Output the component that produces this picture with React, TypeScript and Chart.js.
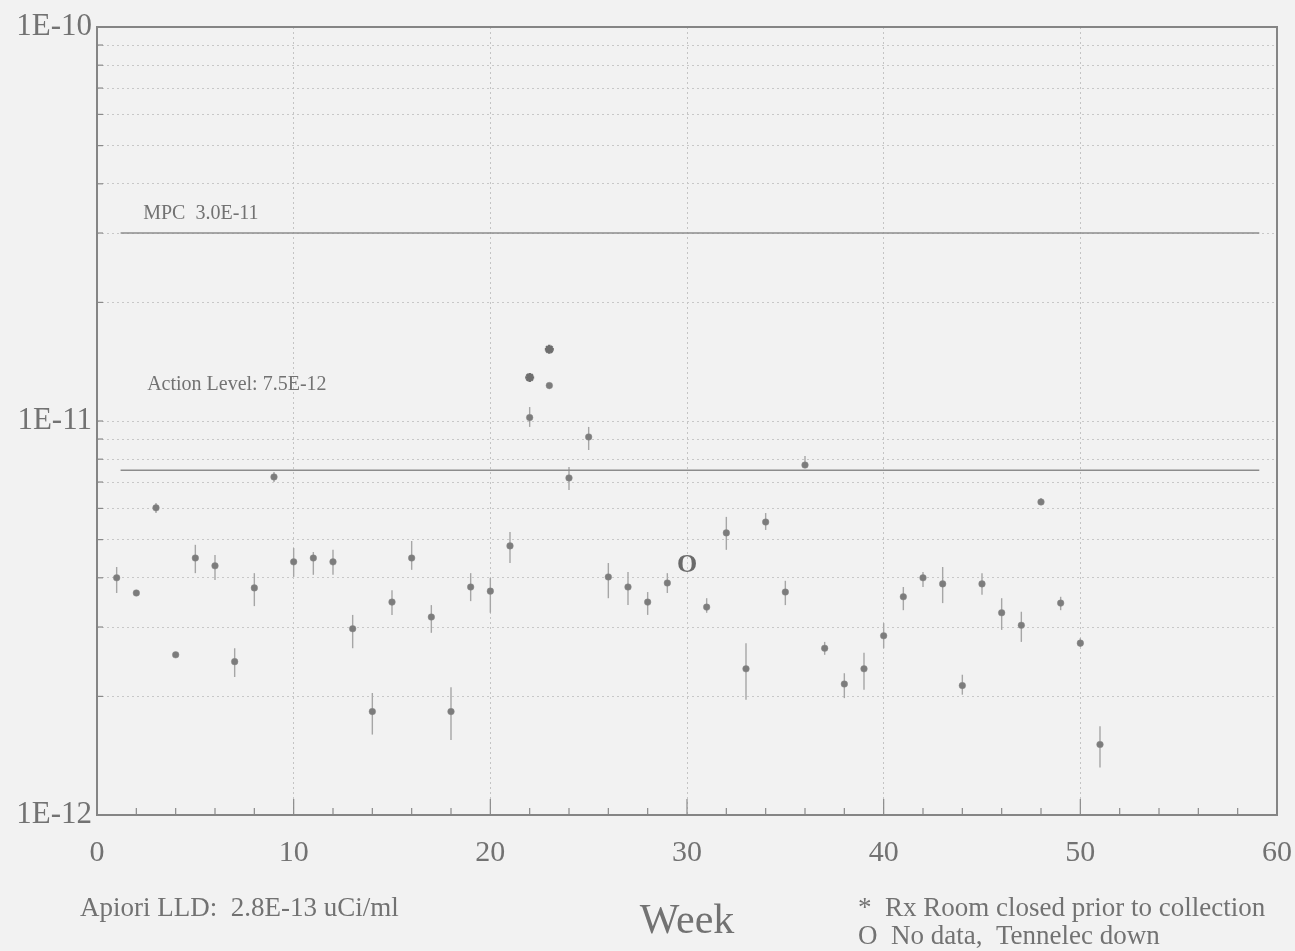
import React, { useEffect, useRef } from "react";
import { Chart, registerables } from "chart.js";

Chart.register(...registerables);

// ---------- data (uCi/ml) ----------
const weeks = [
  1, 2, 3, 4, 5, 6, 7, 8, 9, 10, 11, 12, 13, 14, 15, 16, 17, 18, 19, 20, 21, 22, 23, 24, 25, 26, 27, 28, 29,
  31, 32, 33, 34, 35, 36, 37, 38, 39, 40, 41, 42, 43, 44, 45, 46, 47, 48, 49, 50, 51,
];
const values = [
  4.0e-12, 3.66e-12, 6.02e-12, 2.55e-12, 4.49e-12, 4.29e-12, 2.45e-12, 3.77e-12, 7.21e-12, 4.39e-12,
  4.49e-12, 4.39e-12, 2.97e-12, 1.83e-12, 3.47e-12, 4.49e-12, 3.18e-12, 1.83e-12, 3.79e-12, 3.7e-12,
  4.82e-12, 1.02e-11, 1.23e-11, 7.17e-12, 9.11e-12, 4.02e-12, 3.79e-12, 3.47e-12, 3.88e-12,
  3.37e-12, 5.2e-12, 2.35e-12, 5.54e-12, 3.68e-12, 7.73e-12, 2.65e-12, 2.15e-12, 2.35e-12, 2.85e-12,
  3.58e-12, 4.0e-12, 3.86e-12, 2.13e-12, 3.86e-12, 3.26e-12, 3.03e-12, 6.23e-12, 3.45e-12, 2.73e-12, 1.51e-12,
];
const errLow = [
  3.66e-12, 3.6e-12, 5.84e-12, 2.52e-12, 4.11e-12, 3.95e-12, 2.24e-12, 3.39e-12, 7.0e-12, 4.02e-12,
  4.07e-12, 4.07e-12, 2.65e-12, 1.6e-12, 3.22e-12, 4.19e-12, 2.9e-12, 1.55e-12, 3.49e-12, 3.26e-12,
  4.36e-12, 9.66e-12, 1.22e-11, 6.68e-12, 8.44e-12, 3.55e-12, 3.41e-12, 3.22e-12, 3.66e-12,
  3.26e-12, 4.71e-12, 1.96e-12, 5.29e-12, 3.41e-12, 7.64e-12, 2.55e-12, 1.98e-12, 2.08e-12, 2.65e-12,
  3.31e-12, 3.79e-12, 3.45e-12, 2.02e-12, 3.62e-12, 2.95e-12, 2.75e-12, 6.12e-12, 3.31e-12, 2.67e-12, 1.32e-12,
];
const errHigh = [
  4.26e-12, 3.72e-12, 6.19e-12, 2.58e-12, 4.85e-12, 4.57e-12, 2.65e-12, 4.11e-12, 7.42e-12, 4.76e-12,
  4.65e-12, 4.71e-12, 3.22e-12, 2.04e-12, 3.72e-12, 4.96e-12, 3.41e-12, 2.11e-12, 4.11e-12, 4.0e-12,
  5.23e-12, 1.085e-11, 1.24e-11, 7.64e-12, 9.66e-12, 4.36e-12, 4.14e-12, 3.68e-12, 4.11e-12,
  3.55e-12, 5.71e-12, 2.73e-12, 5.84e-12, 3.93e-12, 8.15e-12, 2.75e-12, 2.29e-12, 2.58e-12, 3.07e-12,
  3.79e-12, 4.14e-12, 4.26e-12, 2.27e-12, 4.11e-12, 3.55e-12, 3.28e-12, 6.38e-12, 3.58e-12, 2.81e-12, 1.68e-12,
];
const closedWeeks = [22, 23];
const closedValues = [1.29e-11, 1.52e-11];
const noDataWeeks = [30];
const noDataValues = [4.31e-12];
const mpcLevel = 3.0e-11;
const actionLevel = 7.5e-12;
const limitWeeks = [1.2, 59.1];
const mpcLabel = "MPC  3.0E-11";
const mpcLabelPos = { x: 2.35, y: 3.26e-11 };
const actionLabel = "Action Level: 7.5E-12";
const actionLabelPos = { x: 2.55, y: 1.2e-11 };
const xTickValues = [0, 10, 20, 30, 40, 50, 60];
const xMinorStep = 2;
const yGridValues = [
  1e-12, 2e-12, 3e-12, 4e-12, 5e-12, 6e-12, 7e-12, 8e-12, 9e-12,
  1e-11, 2e-11, 3e-11, 4e-11, 5e-11, 6e-11, 7e-11, 8e-11, 9e-11, 1e-10,
];
const yTickLabels: Record<string, string> = { "-12": "1E-12", "-11": "1E-11", "-10": "1E-10" };
const xTitle = "Week";
const noteLeft = "Apiori LLD:  2.8E-13 uCi/ml";
const noteRight1 = "*  Rx Room closed prior to collection";
const noteRight2 = "O  No data,  Tennelec down";

const SERIF = '"Liberation Serif", "Times New Roman", serif';
const BG = "#f2f2f2";
const TEXT = "#727272";

const customPlugin = {
  id: "custom",
  beforeDraw(chart: any) {
    const ctx = chart.ctx;
    ctx.save();
    ctx.fillStyle = BG;
    ctx.fillRect(0, 0, chart.width, chart.height);
    ctx.restore();
  },
  beforeDatasetsDraw(chart: any) {
    const ctx = chart.ctx;
    const xs = chart.scales.x;
    const ys = chart.scales.y;
    const area = chart.chartArea;
    ctx.save();
    // inward ticks on y axis
    ctx.strokeStyle = "#8a8a8a";
    ctx.lineWidth = 1.2;
    yGridValues.forEach((v) => {
      const y = ys.getPixelForValue(v);
      ctx.beginPath();
      ctx.moveTo(area.left, y);
      ctx.lineTo(area.left + 6, y);
      ctx.stroke();
    });
    // inward ticks on x axis
    for (let w = 0; w <= 60; w += xMinorStep) {
      const x = xs.getPixelForValue(w);
      const len = w % 10 === 0 ? 16 : 7;
      ctx.beginPath();
      ctx.moveTo(x, area.bottom);
      ctx.lineTo(x, area.bottom - len);
      ctx.stroke();
    }
    // error bars
    ctx.strokeStyle = "#a6a6a6";
    ctx.lineWidth = 1.4;
    weeks.forEach((w, i) => {
      const x = xs.getPixelForValue(w);
      const y1 = ys.getPixelForValue(errLow[i]);
      const y2 = ys.getPixelForValue(errHigh[i]);
      ctx.beginPath();
      ctx.moveTo(x, y1);
      ctx.lineTo(x, y2);
      ctx.stroke();
    });
    ctx.restore();
  },
  afterDraw(chart: any) {
    const ctx = chart.ctx;
    const xs = chart.scales.x;
    const ys = chart.scales.y;
    const area = chart.chartArea;
    ctx.save();
    // frame
    ctx.strokeStyle = "#858585";
    ctx.lineWidth = 2;
    ctx.strokeRect(area.left, area.top, area.right - area.left, area.bottom - area.top);

    // level labels
    ctx.fillStyle = TEXT;
    ctx.font = `20px ${SERIF}`;
    ctx.textAlign = "left";
    ctx.textBaseline = "alphabetic";
    ctx.fillText(mpcLabel, xs.getPixelForValue(mpcLabelPos.x), ys.getPixelForValue(mpcLabelPos.y));
    ctx.fillText(actionLabel, xs.getPixelForValue(actionLabelPos.x), ys.getPixelForValue(actionLabelPos.y));

    // no-data markers
    ctx.font = `bold 26px ${SERIF}`;
    ctx.textAlign = "center";
    ctx.textBaseline = "middle";
    ctx.fillStyle = "#6a6a6a";
    noDataWeeks.forEach((w, i) => {
      ctx.fillText("O", xs.getPixelForValue(w), ys.getPixelForValue(noDataValues[i]));
    });

    // axis title & notes
    ctx.fillStyle = TEXT;
    ctx.textBaseline = "alphabetic";
    ctx.textAlign = "center";
    ctx.font = `42px ${SERIF}`;
    ctx.fillText(xTitle, xs.getPixelForValue(30), area.bottom + 118);

    ctx.textAlign = "left";
    ctx.font = `27px ${SERIF}`;
    ctx.fillText(noteLeft, 80, area.bottom + 101);
    ctx.fillText(noteRight1, 858, area.bottom + 101);
    ctx.fillText(noteRight2, 858, area.bottom + 129);
    ctx.restore();
  },
};

export default function App() {
  const ref = useRef<HTMLCanvasElement | null>(null);

  useEffect(() => {
    document.body.style.margin = "0";
    document.body.style.background = BG;
    if (!ref.current) return;
    const chart = new Chart(ref.current, {
      type: "scatter",
      data: {
        datasets: [
          {
            label: "MPC",
            type: "line",
            data: limitWeeks.map((w) => ({ x: w, y: mpcLevel })),
            borderColor: "#8c8c8c",
            borderWidth: 1.6,
            pointRadius: 0,
            fill: false,
          } as any,
          {
            label: "Action Level",
            type: "line",
            data: limitWeeks.map((w) => ({ x: w, y: actionLevel })),
            borderColor: "#8c8c8c",
            borderWidth: 1.6,
            pointRadius: 0,
            fill: false,
          } as any,
          {
            label: "Weekly",
            data: weeks.map((w, i) => ({ x: w, y: values[i] })),
            pointStyle: "circle",
            pointRadius: 3.3,
            backgroundColor: "#7c7c7c",
            borderColor: "#8a8a8a",
            borderWidth: 0.5,
          },
          {
            label: "Rx Room closed",
            data: closedWeeks.map((w, i) => ({ x: w, y: closedValues[i] })),
            pointStyle: "star",
            pointRadius: 4.5,
            backgroundColor: "#6e6e6e",
            borderColor: "#6e6e6e",
            borderWidth: 2.6,
          },
        ],
      },
      options: {
        animation: false,
        responsive: true,
        maintainAspectRatio: false,
        layout: { padding: { top: 27, right: 18, left: 0, bottom: 0 } },
        plugins: {
          legend: { display: false },
          tooltip: { enabled: false },
        },
        scales: {
          x: {
            type: "linear",
            min: 0,
            max: 60,
            afterBuildTicks: (scale: any) => {
              scale.ticks = xTickValues.map((v) => ({ value: v }));
            },
            afterFit: (scale: any) => {
              scale.height = 136;
              scale.paddingLeft = 0;
              scale.paddingRight = 0;
            },
            ticks: {
              color: TEXT,
              font: { family: SERIF, size: 30 },
              padding: 20,
              maxRotation: 0,
              autoSkip: false,
              callback: (v: any) => String(v),
            },
            grid: {
              drawTicks: false,
              lineWidth: 1,
              color: (c: any) =>
                c.tick && (c.tick.value === 0 || c.tick.value === 60) ? "rgba(0,0,0,0)" : "#c4c4c4",
            },
            border: { display: false, dash: [2, 3] },
          },
          y: {
            type: "logarithmic",
            min: 1e-12,
            max: 1e-10,
            afterBuildTicks: (scale: any) => {
              scale.ticks = yGridValues.map((v) => ({ value: v, major: false }));
            },
            afterFit: (scale: any) => {
              scale.width = 97;
              scale.paddingTop = 0;
              scale.paddingBottom = 0;
            },
            ticks: {
              color: TEXT,
              font: { family: SERIF, size: 31 },
              padding: 5,
              autoSkip: false,
              callback: (v: any) => {
                const e = Math.log10(Number(v));
                const r = Math.round(e);
                return Math.abs(e - r) < 1e-6 ? yTickLabels[String(r)] || "" : "";
              },
            },
            grid: {
              drawTicks: false,
              lineWidth: 1,
              color: "#c8c8c8",
            },
            border: { display: false, dash: [2, 3] },
          },
        },
      },
      plugins: [customPlugin],
    } as any);
    return () => chart.destroy();
  }, []);

  return (
    <div style={{ width: 1295, height: 951, position: "relative", background: BG }}>
      <canvas ref={ref} />
    </div>
  );
}
